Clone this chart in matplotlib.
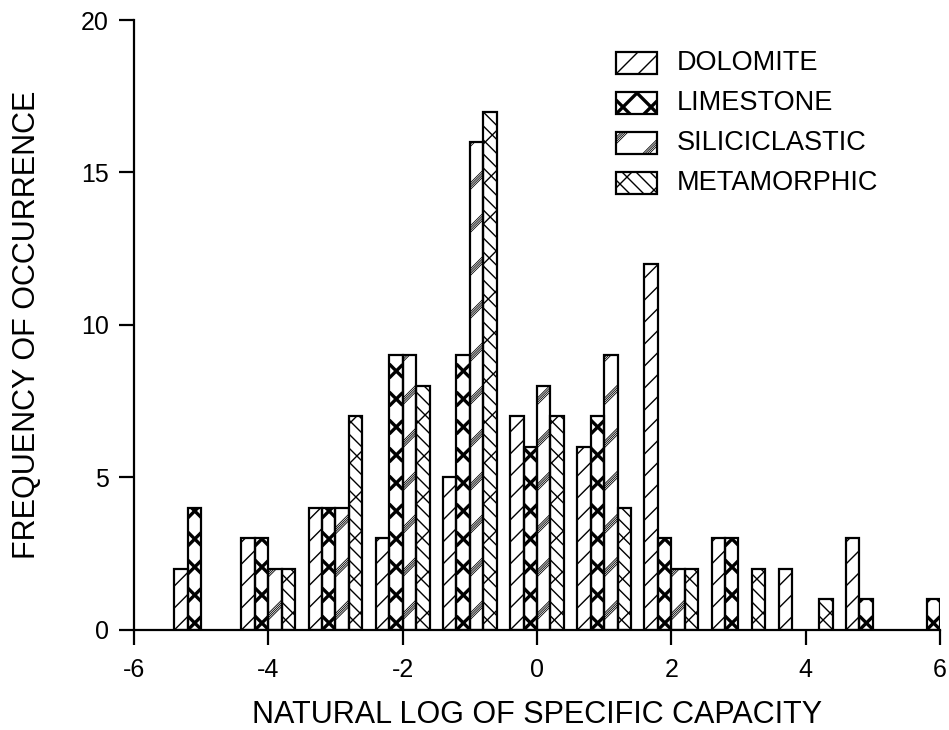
import numpy as np
import matplotlib.pyplot as plt
from matplotlib.collections import LineCollection
from matplotlib.patches import Rectangle

plt.rcParams['font.family'] = ['Liberation Sans', 'DejaVu Sans']
plt.rcParams['axes.unicode_minus'] = False

# bin centres (natural log of specific capacity)
bins = [-5, -4, -3, -2, -1, 0, 1, 2, 3, 4, 5, 6]
dolomite = [2, 3, 4, 3, 5, 7, 6, 12, 3, 2, 3, 0]
limestone = [4, 3, 4, 9, 9, 6, 7, 3, 3, 0, 1, 1]
siliciclastic = [0, 2, 4, 9, 16, 8, 9, 2, 0, 0, 0, 0]
metamorphic = [0, 2, 7, 8, 17, 7, 4, 2, 2, 1, 0, 0]

names = ['DOLOMITE', 'LIMESTONE', 'SILICICLASTIC', 'METAMORPHIC']

# hatch styles: list of (slope, spacing px, offset px, linewidth pt, band lines)
styles = [
    [(1, 22, 0, 1.0, 1)],
    [(1, 28, 0, 2.4, 1), (-1, 28, 14, 2.4, 1)],
    [(1, 43, 10, 0.6, 4)],
    [(-1, 14, 0, 1.0, 1), (1, 40, 6, 1.0, 1)],
]


def add_hatch(ax, patch, tr, style):
    # draw hatch lines in pixel space, clipped to the patch
    x0, y0 = patch.get_x(), patch.get_y()
    x1, y1 = x0 + patch.get_width(), y0 + patch.get_height()
    (px0, py0), (px1, py1) = tr.transform([(x0, y0), (x1, y1)])
    w, h = px1 - px0, py1 - py0
    inv = tr.inverted()
    for slope, sp, off, lw, nband in style:
        segs = []
        c = off - (int((w + 2 * sp) / sp) + 1) * sp
        while c < h + w + sp:
            for k in range(nband):
                cc = c + k * 2.2
                a = (px0, py0 + cc)
                b = (px1, py0 + cc + slope * w)
                segs.append(inv.transform([a, b]))
            c += sp
        lc = LineCollection(segs, colors='black', linewidths=lw,
                            transform=tr, zorder=2.5)
        ax.add_collection(lc, autolim=False)
        lc.set_clip_path(patch)


fig = plt.figure(figsize=(9.49, 7.30), dpi=100)
ax = fig.add_axes([0.1412, 0.137, 0.8493, 0.8356])
ax.set_xlim(-6, 6)
ax.set_ylim(0, 20)

w = 0.2
x = np.array(bins, dtype=float)
series = [dolomite, limestone, siliciclastic, metamorphic]
for i, vals in enumerate(series):
    bars = ax.bar(x - 0.4 + i * w, vals, width=w, align='edge',
                  color='white', edgecolor='none', zorder=2)
    for b in bars:
        if b.get_height() > 0:
            add_hatch(ax, b, ax.transData, styles[i])
    ax.bar(x - 0.4 + i * w, vals, width=w, align='edge', fill=False,
           edgecolor=['black' if v > 0 else 'none' for v in vals],
           linewidth=1.6, zorder=3)
ax.set_xlim(-6, 6)
ax.set_ylim(0, 20)

ax.set_xticks([-6, -4, -2, 0, 2, 4, 6])
ax.set_yticks([0, 5, 10, 15, 20])
ax.tick_params(labelsize=18, width=1.6, length=11, pad=7, direction='out')
ax.tick_params(axis='x', pad=9)
for s in ['top', 'right']:
    ax.spines[s].set_visible(False)
ax.spines['left'].set_linewidth(1.6)
ax.spines['bottom'].set_linewidth(1.6)
ax.spines['bottom'].set_zorder(4)
ax.set_xlabel('NATURAL LOG OF SPECIFIC CAPACITY', fontsize=22, labelpad=13)
ax.set_ylabel('FREQUENCY OF OCCURRENCE', fontsize=22, labelpad=28)

# legend drawn by hand (pixel positions converted to figure fraction)
W, H = 949.0, 730.0
for i, name in enumerate(names):
    yc = 63 + 40 * i
    r = Rectangle((616 / W, 1 - (yc + 11) / H), 41 / W, 22 / H,
                  transform=fig.transFigure, facecolor='white',
                  edgecolor='none', clip_on=False)
    ax.add_patch(r)
    add_hatch(ax, r, fig.transFigure, styles[i])
    ax.add_patch(Rectangle((616 / W, 1 - (yc + 11) / H), 41 / W, 22 / H,
                           transform=fig.transFigure, fill=False,
                           edgecolor='black', linewidth=1.6, zorder=3,
                           clip_on=False))
    fig.text(677 / W, 1 - yc / H, name, fontsize=19.5, va='center', ha='left')

fig.savefig('out.png', dpi=100)
